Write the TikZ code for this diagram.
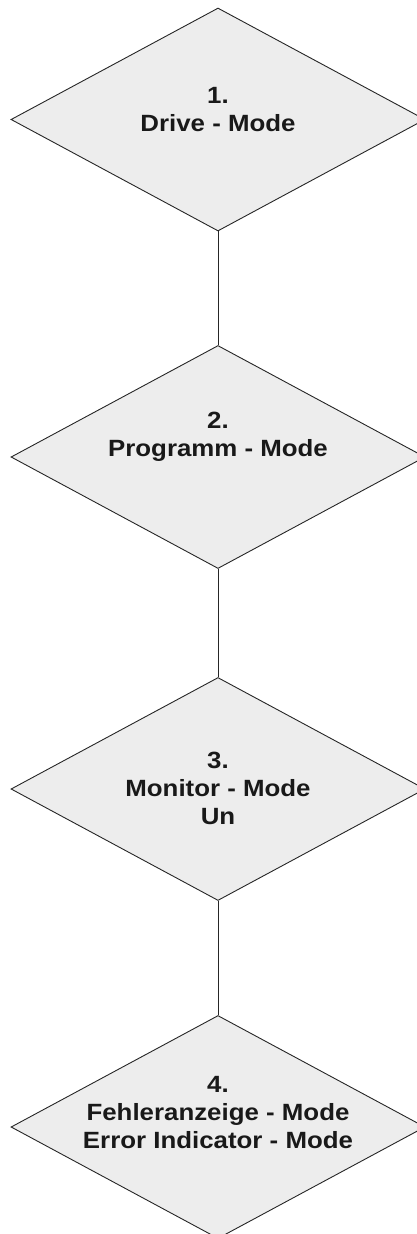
\documentclass[tikz,border=0pt]{standalone}
\usepackage{fontspec}
\setmainfont{Liberation Sans}
\newfontfamily\modefont[FakeStretch=1.1]{Liberation Sans}
\usetikzlibrary{shapes.geometric}
\begin{document}
\begin{tikzpicture}[x=1pt,y=-1pt,
  modebox/.style={draw=black!85, line width=0.9pt, fill=black!7, diamond, shape aspect=1.87,
    minimum width=414pt, minimum height=223pt, inner sep=0pt},
  modetext/.style={align=center, font=\modefont\fontsize{23.5}{28}\selectfont\bfseries, text=black!90},
  link/.style={draw=black!85, line width=0.9pt}]
\useasboundingbox (0,0) rectangle (417,1234);
\begin{scope}
\clip (0,0) rectangle (417,1234);
\node[modebox] (d1) at (218,119.5) {};
\node[modebox] (d2) at (218,457) {};
\node[modebox] (d3) at (218,789) {};
\node[modebox] (d4) at (218,1127) {};
\node[modetext] (t1) at (218,110) {1.\\Drive - Mode};
\node[modetext] (t2) at (218,437) {2.\\Programm - Mode};
\node[modetext] (t3) at (218,788) {3.\\Monitor - Mode\\Un};
\node[modetext] (t4) at (218,1113) {4.\\Fehleranzeige - Mode\\Error Indicator - Mode};
\draw[link] (d1.south) -- (d2.north);
\draw[link] (d2.south) -- (d3.north);
\draw[link] (d3.south) -- (d4.north);
\end{scope}
\end{tikzpicture}
\end{document}
